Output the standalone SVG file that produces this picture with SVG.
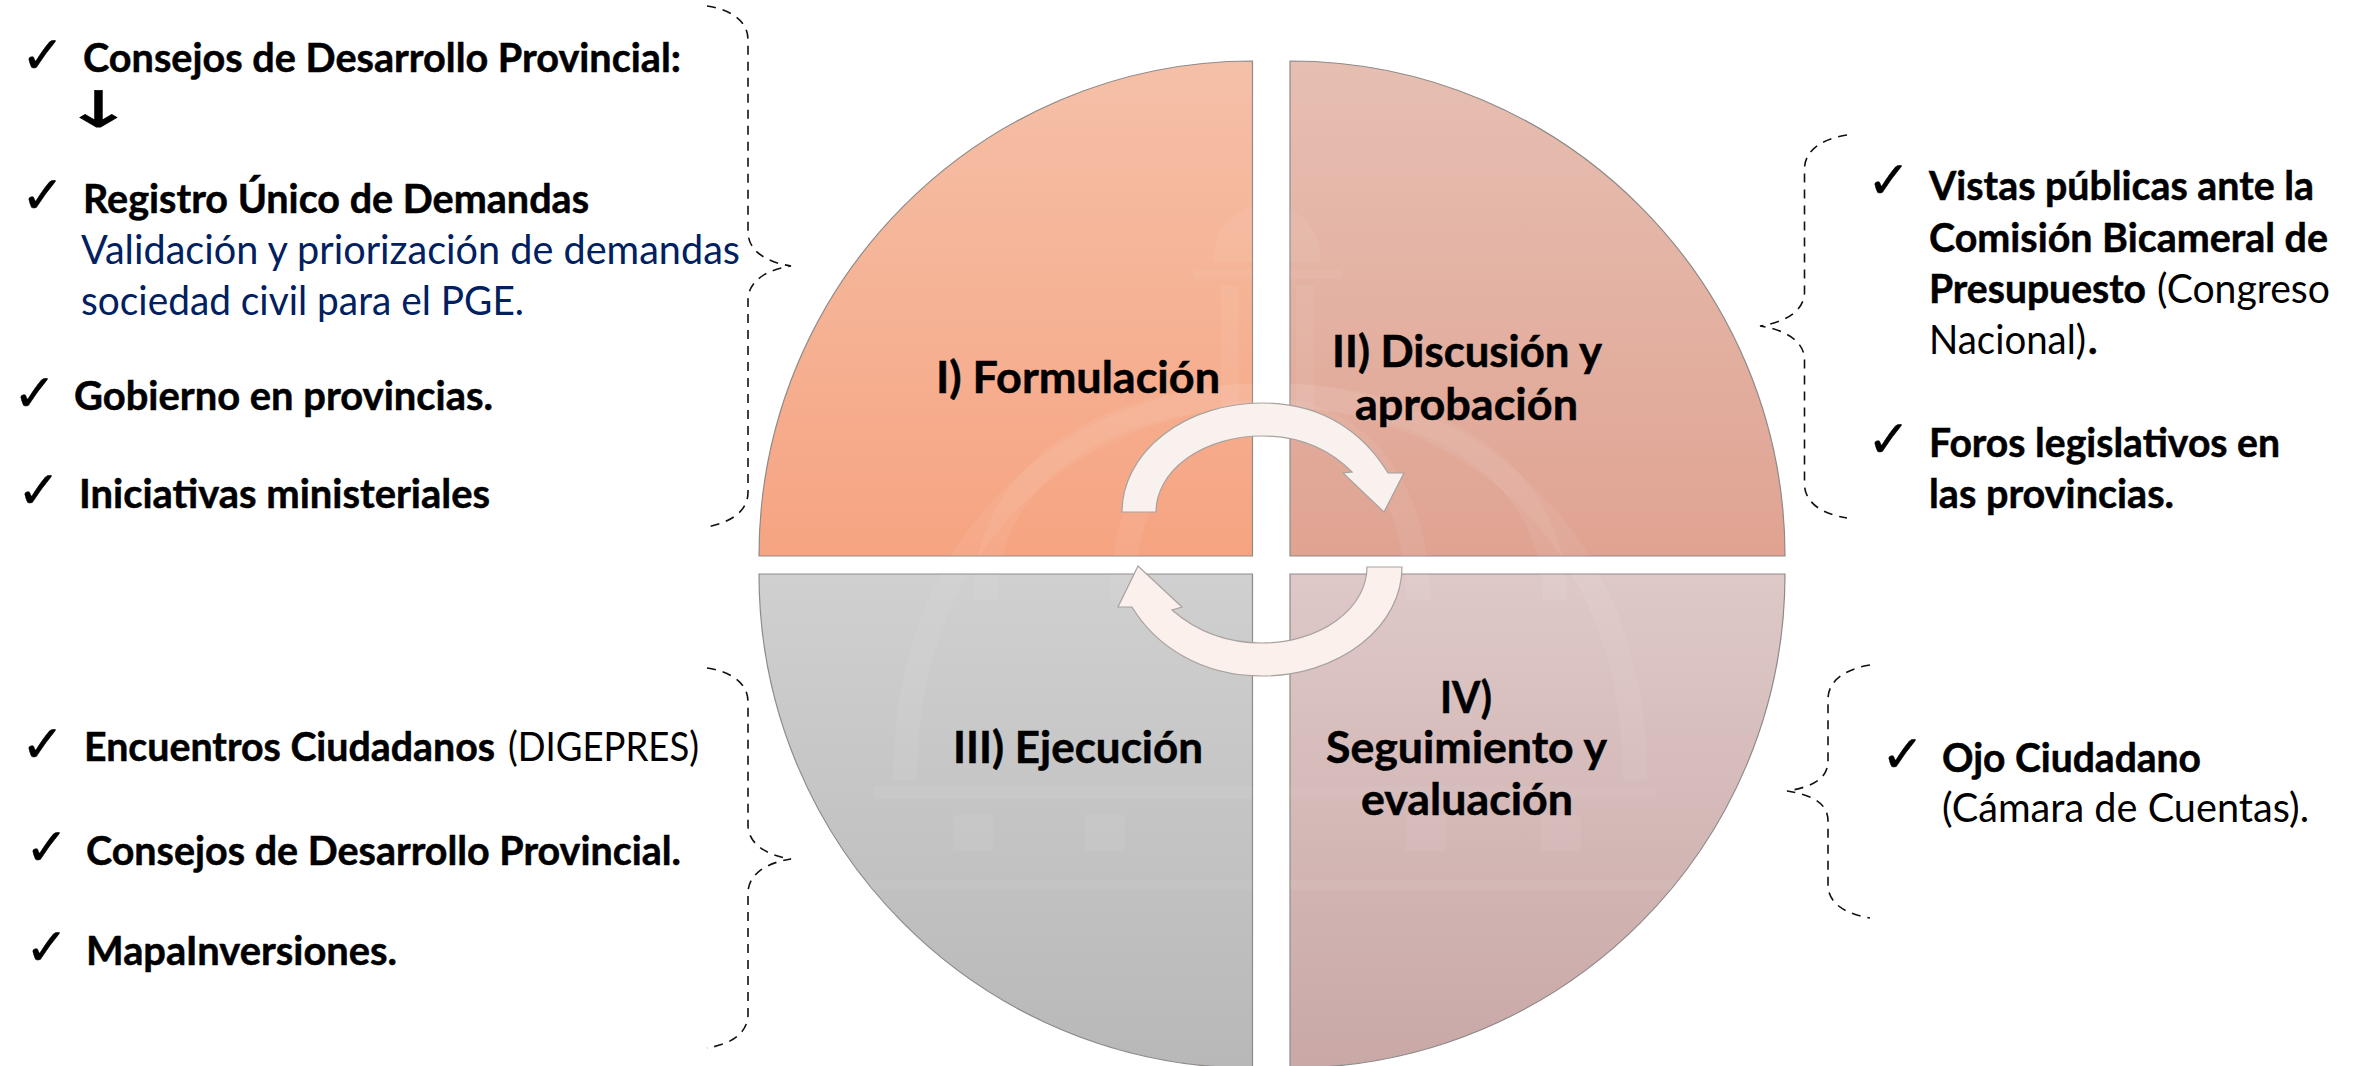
<svg xmlns="http://www.w3.org/2000/svg" width="2356" height="1066" viewBox="0 0 2356 1066">
<style>
text{font-family:"Lato","Open Sans","Liberation Sans",sans-serif;fill:#000}
.b{font-weight:700;font-size:40px;stroke:#000;stroke-width:.5}
.r{font-weight:400;font-size:40px}
.bl{fill:#002060}
.t{font-weight:700;font-size:43px;stroke:#000;stroke-width:.5}
.c{font-family:"DejaVu Sans",sans-serif;font-size:52px;stroke:#000;stroke-width:.4}
.q{stroke:#8f8a88;stroke-width:1.2}
.br{fill:none;stroke:#111;stroke-width:1.6;stroke-dasharray:9 7}
.ar{stroke:#a8a29e;stroke-width:1.2}
.wm{fill:#fff;opacity:.055}
.wl{fill:none;stroke:#fff;opacity:.06}
</style>
<defs>
<linearGradient id="g1" x1="0" y1="0" x2="0" y2="1"><stop offset="0" stop-color="#f5c0a8"/><stop offset="1" stop-color="#f6a481"/></linearGradient>
<linearGradient id="g2" x1="0" y1="0" x2="0" y2="1"><stop offset="0" stop-color="#e6bfb2"/><stop offset="1" stop-color="#e0a392"/></linearGradient>
<linearGradient id="g3" x1="0" y1="0" x2="0" y2="1"><stop offset="0" stop-color="#d0d0d0"/><stop offset="1" stop-color="#b8b8b8"/></linearGradient>
<linearGradient id="g4" x1="0" y1="0" x2="0" y2="1"><stop offset="0" stop-color="#dec9c8"/><stop offset="1" stop-color="#c9a8a6"/></linearGradient>
<clipPath id="qc"><path d="M1252.500 61V556H759C759 283 980 61 1252.500 61ZM1290 61V556H1785C1785 283 1563 61 1290 61ZM1252.500 574V1068C980 1068 759 847 759 574ZM1290 574V1068C1563 1068 1785 847 1785 574Z"/></clipPath>
</defs>
<g id="q1"><path class="q" fill="url(#g1)" d="M1252.500 61V556H759C759 283 980 61 1252.500 61Z"/></g>
<g id="q2"><path class="q" fill="url(#g2)" d="M1290 61V556H1785C1785 283 1563 61 1290 61Z"/></g>
<g id="q3"><path class="q" fill="url(#g3)" d="M1252.500 574V1068C980 1068 759 847 759 574Z"/></g>
<g id="q4"><path class="q" fill="url(#g4)" d="M1290 574V1068C1563 1068 1785 847 1785 574Z"/></g>
<g id="watermark" clip-path="url(#qc)">
<path class="wm" d="M1213 262C1213 225 1240 204 1267 204C1294 204 1321 225 1321 262Z"/>
<rect class="wm" x="1193" y="269" width="149" height="10"/>
<rect class="wm" x="1221" y="285" width="18" height="125"/>
<rect class="wm" x="1296" y="285" width="18" height="125"/>
<path class="wl" stroke-width="24" d="M985 600C985 470 1110 395 1270 395C1430 395 1555 470 1555 600"/>
<path class="wl" stroke-width="24" d="M1122 600C1122 480 1190 410 1270 410C1350 410 1418 480 1418 600"/>
<path class="wl" stroke-width="24" d="M905 780C905 520 1090 395 1270 395C1450 395 1635 520 1635 780"/>
<rect class="wm" x="875" y="786" width="781" height="13"/>
<rect class="wm" x="953" y="815" width="40" height="36"/>
<rect class="wm" x="1085" y="815" width="40" height="36"/>
<rect class="wm" x="1406" y="815" width="40" height="36"/>
<rect class="wm" x="1541" y="815" width="40" height="36"/>
<rect class="wm" x="835" y="880" width="870" height="10"/>
</g>
<g id="connectors">
<path class="br" d="M707 6C733 10 748 22 748 40V232C748 250 765 262 791 266C765 270 748 282 748 300V492C748 510 733 522 707 527"/>
<path class="br" d="M707 668C733 672 748 684 748 702V825C748 843 765 855 791 859C765 863 748 875 748 893V1014C748 1032 733 1044 707 1048"/>
<path class="br" d="M1847 135C1821 139 1804.500 151 1804.500 169V292C1804.500 310 1787 322 1760 326C1787 330 1804.500 342 1804.500 360V484C1804.500 502 1821 514 1847 518"/>
<path class="br" d="M1870 665C1845 669 1828 681 1828 699V761C1828 779 1812 787 1787 791C1812 795 1828 803 1828 821V885C1828 903 1845 914 1870 918"/>
<path class="ar" fill="#f8f1ee" d="M1122 512A140 109 0 0 1 1262 403C1325 403 1365 435 1388 473L1404 473L1384 512L1343 473L1352 472C1330 450 1300 436 1262 436A106 76 0 0 0 1156 512Z"/>
<path class="ar" fill="#fbf0ec" d="M1402 567A140 109 0 0 1 1262 676C1200 676 1155 645 1132 607L1118 607L1138 566L1182 607L1172 610C1195 630 1225 643 1262 643A105 76 0 0 0 1367 567Z"/>
</g>
<g id="label-q1"><text class="t" x="936" y="393" textLength="284" lengthAdjust="spacingAndGlyphs">I) Formulación</text></g>
<g id="label-q2"><text class="t" x="1332" y="367" textLength="270" lengthAdjust="spacingAndGlyphs">II) Discusión y</text><text class="t" x="1355" y="420" textLength="223" lengthAdjust="spacingAndGlyphs">aprobación</text></g>
<g id="label-q3"><text class="t" x="953" y="763" textLength="250" lengthAdjust="spacingAndGlyphs">III) Ejecución</text></g>
<g id="label-q4"><text class="t" x="1440" y="713" textLength="52" lengthAdjust="spacingAndGlyphs">IV)</text><text class="t" x="1326" y="763" textLength="281" lengthAdjust="spacingAndGlyphs">Seguimiento y</text><text class="t" x="1361" y="815" textLength="212" lengthAdjust="spacingAndGlyphs">evaluación</text></g>
<g id="list-formulacion">
<text class="c" x="21" y="73">✓</text>
<text class="b" x="83" y="72" textLength="598" lengthAdjust="spacingAndGlyphs">Consejos de Desarrollo Provincial:</text>
<text x="62.500" y="127" textLength="72" lengthAdjust="spacingAndGlyphs" style="font-family:'DejaVu Sans',sans-serif;font-size:50px;stroke:#000;stroke-width:.8">↓</text>
<text class="c" x="21" y="213">✓</text>
<text class="b" x="83" y="213" textLength="506" lengthAdjust="spacingAndGlyphs">Registro Único de Demandas</text>
<text class="r bl" x="81" y="264" textLength="659" lengthAdjust="spacingAndGlyphs">Validación y priorización de demandas</text>
<text class="r bl" x="81" y="315" textLength="443" lengthAdjust="spacingAndGlyphs">sociedad civil para el PGE.</text>
<text class="c" x="13" y="411">✓</text>
<text class="b" x="74" y="410" textLength="419" lengthAdjust="spacingAndGlyphs">Gobierno en provincias.</text>
<text class="c" x="17" y="508">✓</text>
<text class="b" x="79" y="508" textLength="411" lengthAdjust="spacingAndGlyphs">Iniciativas ministeriales</text>
</g>
<g id="list-ejecucion">
<text class="c" x="21" y="762">✓</text>
<text class="b" x="84" y="761" textLength="411" lengthAdjust="spacingAndGlyphs">Encuentros Ciudadanos</text>
<text class="r" x="508" y="761" textLength="191" lengthAdjust="spacingAndGlyphs">(DIGEPRES)</text>
<text class="c" x="25" y="865">✓</text>
<text class="b" x="86" y="865" textLength="595" lengthAdjust="spacingAndGlyphs">Consejos de Desarrollo Provincial.</text>
<text class="c" x="25" y="965">✓</text>
<text class="b" x="86" y="965" textLength="311" lengthAdjust="spacingAndGlyphs">MapaInversiones.</text>
</g>
<g id="list-discusion">
<text class="c" x="1867" y="198">✓</text>
<text class="b" x="1929" y="200" textLength="385" lengthAdjust="spacingAndGlyphs">Vistas públicas ante la</text>
<text class="b" x="1929" y="252" textLength="399" lengthAdjust="spacingAndGlyphs">Comisión Bicameral de</text>
<text class="b" x="1929" y="303" textLength="217" lengthAdjust="spacingAndGlyphs">Presupuesto</text>
<text class="r" x="2157" y="303" textLength="173" lengthAdjust="spacingAndGlyphs">(Congreso</text>
<text class="r" x="1929" y="354" textLength="157" lengthAdjust="spacingAndGlyphs">Nacional)</text>
<text class="b" x="2088" y="354">.</text>
<text class="c" x="1867" y="457">✓</text>
<text class="b" x="1929" y="457" textLength="351" lengthAdjust="spacingAndGlyphs">Foros legislativos en</text>
<text class="b" x="1929" y="508" textLength="245" lengthAdjust="spacingAndGlyphs">las provincias.</text>
</g>
<g id="list-seguimiento">
<text class="c" x="1881" y="772">✓</text>
<text class="b" x="1942" y="772" textLength="259" lengthAdjust="spacingAndGlyphs">Ojo Ciudadano</text>
<text class="r" x="1942" y="822" textLength="367" lengthAdjust="spacingAndGlyphs">(Cámara de Cuentas).</text>
</g>
</svg>
